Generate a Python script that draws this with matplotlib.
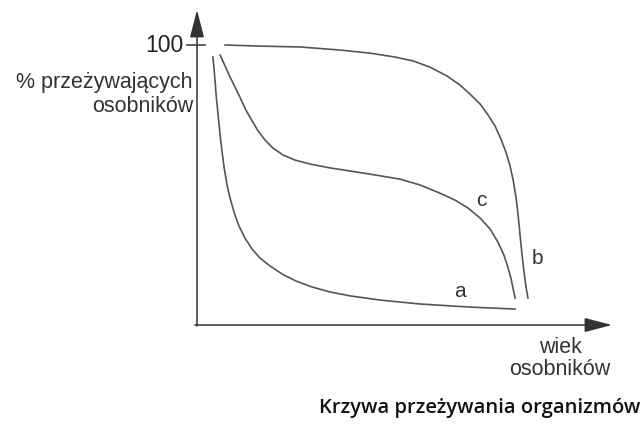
import matplotlib
matplotlib.use("Agg")
import matplotlib.pyplot as plt

# curves: x = age (arbitrary units), y = % surviving
b_x = [8.5, 19.1, 31.2, 43.3, 52.4, 60.0, 65.5, 70.6, 75.8, 79.7, 82.7, 85.8, 88.2,
       90.3, 92.1, 93.6, 94.8, 95.8, 96.7, 97.3, 97.9, 98.5, 99.1, 99.7, 100.3]
b_y = [100, 99.6, 99.3, 98.2, 97.1, 95.7, 94.3, 92.1, 88.9, 85.7, 82.5, 78.9, 75.0,
       71.1, 66.4, 61.8, 57.1, 51.8, 45.4, 39.3, 32.1, 25.0, 18.9, 13.6, 9.6]

c_x = [7.0, 8.5, 10.0, 11.5, 13.0, 14.8, 16.7, 18.5, 20.6, 23.0, 26.1, 29.7, 34.2, 40.3,
       46.4, 53.9, 61.5, 67.6, 73.6, 78.2, 82.1, 85.8, 88.8, 91.2, 93.0, 94.2, 95.2,
       95.8, 96.4]
c_y = [96.4, 92.5, 88.6, 85.0, 81.4, 76.8, 72.9, 69.3, 66.1, 63.2, 60.7, 58.9, 57.5, 56.1,
       55.0, 53.6, 52.1, 50.0, 47.1, 44.6, 41.8, 38.2, 34.3, 29.6, 25.0, 20.7, 16.4,
       12.9, 9.6]

a_x = [4.8, 5.2, 5.5, 5.8, 6.4, 7.0, 7.6, 8.2, 9.1, 10.0, 11.2, 12.7, 14.5, 16.7, 19.1,
       22.1, 25.8, 30.0, 34.8, 40.3, 46.4, 55.5, 67.6, 82.7, 96.4]
a_y = [95.7, 91.1, 86.8, 82.1, 75.0, 67.9, 61.8, 56.4, 50.0, 45.4, 40.4, 35.4, 31.1, 27.1,
       23.9, 21.1, 18.2, 15.7, 13.6, 11.8, 10.4, 8.9, 7.5, 6.4, 5.7]

curve_labels = ["a", "b", "c"]
label_pos = [(79.7, 11.8), (103.3, 23.9), (86.1, 44.6)]

W, H = 642, 428
fig = plt.figure(figsize=(W / 100, H / 100), dpi=100)
# axes box: x from px 197 to 612, y from px 325 (bottom) to 10 (top)
ax = fig.add_axes([197 / W, 1 - 325 / H, (612 - 197) / W, (325 - 10) / H])
ax.set_xlim(0, (612 - 197) / 3.3)
ax.set_ylim(0, (325 - 10) / 2.8)
ax.axis("off")

line_col = "#555555"
axis_col = "#333333"
for xs, ys in [(a_x, a_y), (b_x, b_y), (c_x, c_y)]:
    ax.plot(xs, ys, color=line_col, lw=1.2, solid_joinstyle="round")

# axes with arrow heads
arrow = dict(arrowstyle="-|>,head_length=0.85,head_width=0.22", color=axis_col,
             lw=1.1, mutation_scale=20, shrinkA=0, shrinkB=0)
ax.annotate("", xy=(0, 1), xytext=(0, -0.003), xycoords="axes fraction",
            arrowprops=arrow, annotation_clip=False)
ax.annotate("", xy=(1, 0), xytext=(-0.005, 0), xycoords="axes fraction",
            arrowprops=arrow, annotation_clip=False)

# tick at 100
ax.plot([-3.0, 2.4], [100, 100], color=axis_col, lw=1.1, clip_on=False)
ax.text(-4.0, 100, "100", ha="right", va="center", fontsize=16.5,
        family="Liberation Sans", color="#222222")

for lab, (lx, ly) in zip(curve_labels, label_pos):
    ax.text(lx, ly, lab, ha="center", va="center", fontsize=15,
            family="Liberation Sans", color="#333333")

fig.text(193 / W, 1 - 94.5 / H, "% przeżywających\nosobników", ha="right",
         va="center", multialignment="right", fontsize=15.5, linespacing=1.15,
         family="Liberation Sans", color="#333333")
fig.text(560 / W, 1 - 358.5 / H, "wiek\nosobników", ha="center", va="center",
         multialignment="center", fontsize=15.5, linespacing=1.1,
         family="Liberation Sans", color="#333333")
fig.text(480 / W, 1 - 408 / H, "Krzywa przeżywania organizmów", ha="center",
         va="center", fontsize=14.5, fontweight="semibold", family="Open Sans",
         color="#111111")

fig.savefig("out.png", dpi=100, facecolor="white")
